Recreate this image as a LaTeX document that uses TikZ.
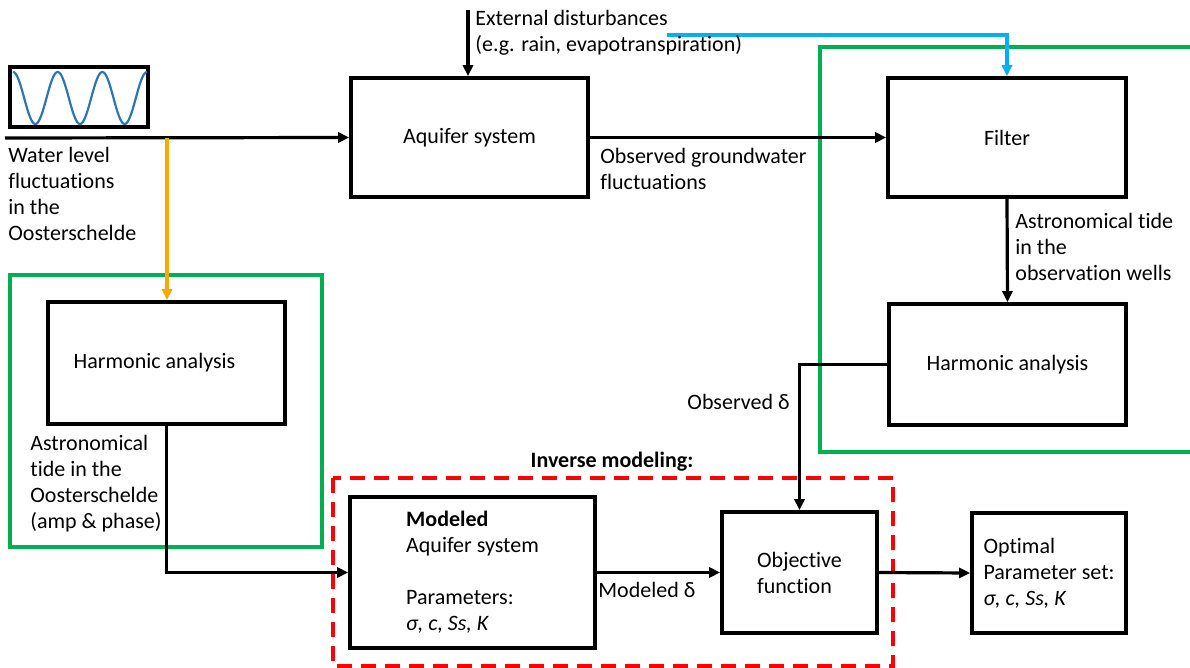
\documentclass[tikz,border=0pt]{standalone}
\usepackage{fontspec}
\setmainfont[Ligatures=CommonOff]{Carlito}
\usetikzlibrary{arrows.meta}

\begin{document}
\begin{tikzpicture}[x=0.5pt,y=-0.5pt,
		font=\fontsize{11}{13}\selectfont,
		block/.style={draw=black, line width=1.8pt, minimum width=#1},
		lbl/.style={inner sep=0pt, align=left},
		pfeil/.style={line width=1.6pt, -{Triangle[length=5.5pt,width=5pt]}}]
	
	% Farben
	\definecolor{wave}{RGB}{46,117,182}
	\definecolor{rahmen}{RGB}{0,176,80}
	\definecolor{blau}{RGB}{0,176,240}
	\definecolor{orange}{RGB}{255,168,0}
	\definecolor{rot}{RGB}{255,0,0}
	
	\useasboundingbox (0,0) rectangle (1190,668);
	
	% Rahmen
	\draw[rahmen, line width=1.6pt] (10,275) rectangle (322,547);
	\draw[rahmen, line width=1.6pt] (1190,47) -- (820,47) -- (820,452) -- (1190,452);
	\draw[rot, line width=1.6pt, dash pattern=on 7.5pt off 4.5pt] (333,478) rectangle (893,666);
	\node[lbl, font=\fontsize{11}{13}\selectfont\bfseries] (inv) at (612,462) {Inverse modeling:};
	
	% Bloecke
	\node[block=69pt, minimum height=30pt] (wave) at (79,97) {};
	\node[block=118.5pt, minimum height=59.5pt] (aq) at (469.5,137.5) {Aquifer system};
	\node[block=119pt, minimum height=59.5pt] (filt) at (1007,137.5) {Filter};
	\node[block=118.5pt, minimum height=61pt] (ha1) at (166.5,363) {\hspace*{-12pt}Harmonic analysis};
	\node[block=118.5pt, minimum height=60.5pt] (ha2) at (1007.5,364.5) {Harmonic analysis};
	\node[block=122.5pt, minimum height=75.5pt, align=left] (mod) at (472.5,572.5)
		{\textbf{Modeled}\\Aquifer system\\[13pt]Parameters:\\\textit{σ, c, Ss, K}\hspace*{2pt}};
	\node[block=77.5pt, minimum height=60.5pt, align=left] (obj) at (799.5,572.5) {Objective\\function};
	\node[block=77pt, minimum height=60pt, align=left] (opt) at (1049,573)
		{Optimal\\Parameter set:\\\textit{σ, c, Ss, K}};
	
	% Sinuskurve
	\draw[wave, line width=1.1pt] plot[variable=\t, domain=0:134, samples=120, smooth]
		(13+\t, {98-26*cos(8.0591*\t)});
	
	% Hilfspunkte
	\coordinate (src) at (5,138);
	\coordinate (tap) at (167,138);
	\coordinate (ext) at (468,10);
	\coordinate (extb) at (667,35);
	
	% Verbindungen
	\draw[pfeil] (src) -- (aq.west);
	\draw[pfeil, orange] (tap) -- (tap |- ha1.north);
	\draw[pfeil] (ext) -- (ext |- aq.north);
	\draw[pfeil, blau] (extb) -| (filt.north);
	\draw[pfeil] (aq.east) -- (filt.west);
	\draw[pfeil] (filt.south) -- (ha2.north);
	\draw[pfeil] (ha2.west) -| (obj.north);
	\draw[pfeil] (ha1.south) |- (mod.west);
	\draw[pfeil] (mod.east) -- (obj.west);
	\draw[pfeil] (obj.east) -- (opt.west);
	
	% Beschriftungen
	\node[lbl, anchor=west] (extlbl) at (475,33) {External disturbances\\(e.g. rain, evapotranspiration)};
	\node[lbl, anchor=west] (wl) at (8,194) {Water level\\fluctuations\\in the\\Oosterschelde};
	\node[lbl, anchor=west] (ogw) at (600,169) {Observed groundwater\\fluctuations};
	\node[lbl, anchor=west] (atow) at (1015,247) {Astronomical tide\\in the\\observation wells};
	\node[lbl, anchor=east] (obsd) at (790,402) {Observed δ};
	\node[lbl, anchor=west] (atos) at (30,484) {Astronomical\\tide in the\\Oosterschelde\\(amp \& phase)};
	\node[lbl, anchor=west] (modd) at (598,590) {Modeled δ};
	
\end{tikzpicture}
\end{document}
